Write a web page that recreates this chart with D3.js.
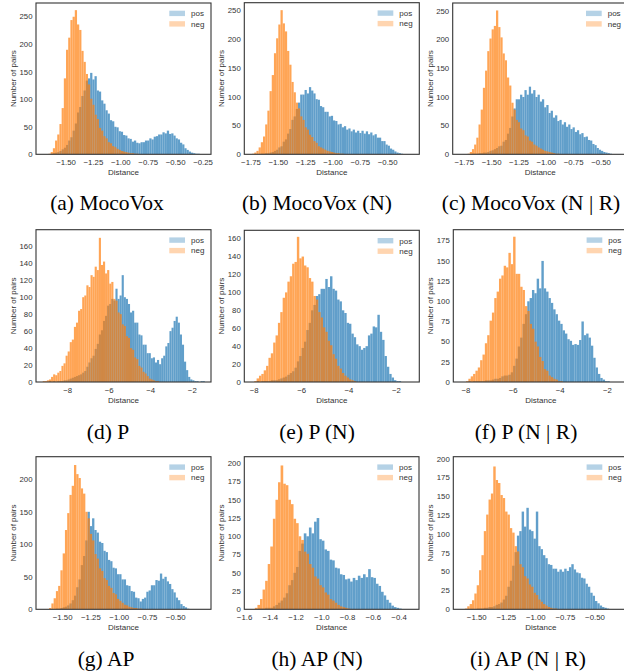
<!DOCTYPE html>
<html><head><meta charset="utf-8">
<script src="https://cdn.jsdelivr.net/npm/d3@7"></script>
<style>body{margin:0;background:#fff}svg{display:block}</style>
</head><body><svg id="c" width="624" height="671"></svg>
<script>
// ---- data: histogram counts (bin start, bin width, counts) ----
const captions = ["(a) MocoVox","(b) MocoVox (N)","(c) MocoVox (N | R)","(d) P","(e) P (N)","(f) P (N | R)","(g) AP","(h) AP (N)","(i) AP (N | R)"];
const seriesNames = ["pos","neg"];
const binWidths = [0.02,0.02,0.02,0.1,0.1,0.1,0.02,0.02,0.02];
const posStarts = [-1.64,-1.66,-1.68,-8.9,-7.9,-7.9,-1.56,-1.50,-1.50];
const negStarts = [-1.66,-1.74,-1.72,-9.2,-8.0,-8.0,-1.62,-1.52,-1.60];

const aPos = [1,2,3,4,6,9,12,17,25,31,43,56,76,86,106,116,134,138,148,136,142,116,114,98,92,80,74,62,60,50,49,42,41,35,34,29,28,23,25,21,20,22,22,25,25,29,27,32,33,36,36,40,38,43,37,38,34,29,27,21,18,11,8,5,3,2,1,1];
const aNeg = [1,4,11,25,36,55,84,138,190,212,244,250,262,236,226,188,168,146,127,101,90,72,64,48,43,33,29,22,20,15,13,10,8,6,5,4,3,2,2,1,1];
const bPos = [1,1,2,2,3,4,6,8,12,14,22,26,36,44,60,66,79,90,104,104,112,106,117,111,106,96,95,84,82,74,74,66,67,59,58,52,53,47,49,43,45,40,43,38,41,37,41,36,40,35,38,33,35,29,29,23,23,17,15,10,8,5,3,2,1];
const bNeg = [1,3,6,12,21,31,52,76,110,138,176,202,226,251,228,214,180,156,126,108,90,80,66,60,47,43,34,30,23,20,14,12,10,8,6,5,4,3,2,2,1,1];
const cPos = [1,1,1,2,2,3,3,4,6,7,9,11,14,15,22,25,36,46,66,80,96,96,104,100,112,104,118,106,112,100,104,92,96,82,86,72,76,64,68,58,60,52,56,48,52,44,47,39,42,35,37,30,31,25,24,18,16,11,8,6,4,3,2,1];
const cNeg = [1,4,9,17,29,52,78,116,146,180,202,218,224,251,222,204,176,164,134,120,90,78,60,56,45,42,33,31,24,22,17,15,12,10,8,6,5,4,3,2,1,1];
const dPos = [1,0,1,0,1,1,1,2,2,3,4,5,6,7,8,9,11,13,18,23,28,31,39,45,56,61,72,78,90,92,98,96,110,98,102,126,100,98,92,82,84,70,70,56,55,44,44,34,34,28,29,23,26,21,28,31,42,46,60,64,72,77,70,56,44,24,14,6,3,2,1,1,0,1,1];
const dNeg = [1,1,2,3,6,9,8,11,13,19,22,31,36,47,50,65,70,84,86,100,102,114,112,126,124,136,132,170,138,142,128,132,116,118,98,96,82,80,68,66,54,52,40,38,29,27,19,17,12,10,7,4,3,2,1,1];
const ePos = [1,0,1,1,1,1,2,2,2,3,4,5,6,8,10,12,16,23,29,38,45,58,66,80,86,96,98,104,104,115,106,118,104,102,92,90,80,77,66,65,54,50,42,40,36,38,40,52,54,62,61,75,56,47,29,17,9,5,2,1,1];
const eNeg = [1,4,7,9,13,18,27,32,44,52,66,78,94,100,112,118,132,134,162,138,140,130,128,116,112,96,92,78,72,61,56,46,41,31,26,18,15,10,7,5,3,2,1];
const fPos = [1,0,1,1,1,1,1,2,2,2,3,4,4,5,7,8,8,9,12,20,29,44,55,72,84,100,104,114,110,128,116,150,116,112,104,98,90,84,76,72,64,60,53,51,46,47,46,52,75,58,60,55,45,30,18,10,5,3,1,1];
const fNeg = [1,4,7,10,14,18,27,34,48,58,76,86,104,112,128,132,144,142,160,146,180,134,134,118,114,94,88,72,66,50,44,31,26,16,14,8,6,4,3,1,1];
const gPos = [1,1,2,3,4,6,9,14,21,34,46,68,82,106,150,128,140,122,118,104,102,90,88,76,74,64,63,54,54,46,46,37,36,28,27,18,17,12,16,18,27,29,37,37,45,44,55,47,50,43,39,31,26,18,14,8,5,3,1];
const gNeg = [2,9,17,28,36,60,86,122,148,176,190,222,208,202,186,178,150,140,116,106,85,78,63,59,48,45,36,33,25,23,16,13,10,7,6,4,3,2,2,1,1];
const hPos = [1,1,1,2,2,2,4,6,9,12,16,22,33,40,50,58,80,90,104,100,112,104,120,125,96,94,82,80,68,67,57,56,48,47,41,42,38,43,40,46,43,48,44,55,44,43,35,32,24,19,13,9,5,3,2,1];
const hNeg = [2,6,14,27,39,62,86,124,150,174,197,172,170,150,144,124,118,100,95,79,76,62,57,45,42,33,30,23,20,14,12,9,6,4,3,2,1];
const iPos = [1,1,1,2,2,3,3,4,6,7,9,13,18,30,38,58,76,98,104,130,110,135,106,104,94,130,84,80,72,68,60,59,54,54,50,53,50,54,51,56,60,53,49,48,42,41,34,30,22,18,11,8,5,3,2,1];
const iNeg = [1,4,7,12,21,32,52,72,104,126,146,154,190,172,168,152,148,130,126,108,102,84,77,60,56,44,41,33,30,22,19,13,10,7,5,3,2,1,1];

const posCounts = [aPos,bPos,cPos,dPos,ePos,fPos,gPos,hPos,iPos];
const negCounts = [aNeg,bNeg,cNeg,dNeg,eNeg,fNeg,gNeg,hNeg,iNeg];

// axis domains and tick labels
const xDomains = [[-1.774,-0.177],[-1.811,-0.211],[-1.856,-0.256],[-9.525,-1.1],[-8.42,-1.03],[-8.54,-1.11],[-1.736,-0.188],[-1.602,-0.245],[-1.698,-0.218]];
const yMaxes = [275,264,264,179.6,169.3,188.7,234.8,209,203];
const xTickSets = [
  [-1.5,-1.25,-1.0,-0.75,-0.5,-0.25],
  [-1.75,-1.5,-1.25,-1.0,-0.75,-0.5],
  [-1.75,-1.5,-1.25,-1.0,-0.75,-0.5],
  [-8,-6,-4,-2],[-8,-6,-4,-2],[-8,-6,-4,-2],
  [-1.5,-1.25,-1.0,-0.75,-0.5],
  [-1.6,-1.4,-1.2,-1.0,-0.8,-0.6,-0.4],
  [-1.5,-1.25,-1.0,-0.75,-0.5]
];
const xTickDecimals = [2,2,2,0,0,0,2,1,2];
const yTickSets = [
  [0,50,100,150,200,250],[0,50,100,150,200,250],[0,50,100,150,200,250],
  [0,20,40,60,80,100,120,140,160],[0,20,40,60,80,100,120,140,160],[0,25,50,75,100,125,150,175],
  [0,50,100,150,200],[0,25,50,75,100,125,150,175,200],[0,25,50,75,100,125,150,175,200]
];

// ---- layout ----
const boxes = [
  [36,3,211,154.3],[244.3,2.7,419.3,154.3],[452.7,3,627.7,154.3],
  [36,229.7,211,382],[244.3,230.3,419.3,382],[453.3,229.7,628.3,382],
  [36,456.7,211,609.3],[244.3,456.7,419,609.3],[453.3,456.7,628.3,609.3]
];
const captionPos = [[107,210],[317,210],[531,210],[108,439],[317,439],[526,439],[106,666],[317,666],[528,666]];
const colors = {pos:"#1f77b4", neg:"#ff7f0e"};
const minus = s => s.replace("-", "\u2212");
const SANS = "Liberation Sans, Arial, sans-serif";

const svg = d3.select("#c");
const defs = svg.append("defs");

captions.forEach((cap, k) => {
  const [L,T,R,B] = boxes[k];
  const x = d3.scaleLinear().domain(xDomains[k]).range([L,R]);
  const y = d3.scaleLinear().domain([0,yMaxes[k]]).range([B,T]);
  const g = svg.append("g");
  defs.append("clipPath").attr("id","clip"+k).append("rect")
    .attr("x",L).attr("y",T).attr("width",R-L).attr("height",B-T);
  const plot = g.append("g").attr("clip-path","url(#clip"+k+")");
  const bw = binWidths[k];
  const drawSeries = (counts, start, color) => {
    const sg = plot.append("g").attr("opacity",0.7);
    sg.selectAll("rect").data(counts).join("rect")
      .attr("x",(d,i)=>x(start+i*bw))
      .attr("width",(d,i)=>x(start+(i+1)*bw)-x(start+i*bw)+0.05)
      .attr("y",d=>y(d))
      .attr("height",d=>y(0)-y(d))
      .attr("fill",color);
  };
  drawSeries(posCounts[k], posStarts[k], colors.pos);
  drawSeries(negCounts[k], negStarts[k], colors.neg);

  // frame
  g.append("rect").attr("x",L).attr("y",T).attr("width",R-L).attr("height",B-T)
    .attr("fill","none").attr("stroke","#333").attr("stroke-width",1.1);

  // ticks
  const fmt = d3.format("."+xTickDecimals[k]+"f");
  g.selectAll(".xt").data(xTickSets[k]).join("text")
    .attr("x",d=>x(d)).attr("y",B+10.5)
    .attr("text-anchor","middle")
    .attr("font-family",SANS).attr("font-size",7.8).attr("fill","#333")
    .text(d=>minus(fmt(d)));
  g.selectAll(".yt").data(yTickSets[k]).join("text")
    .attr("x",L-3.5).attr("y",d=>y(d)).attr("dy","0.35em")
    .attr("text-anchor","end")
    .attr("font-family",SANS).attr("font-size",7.8).attr("fill","#333")
    .text(d=>d);
  g.append("text").attr("x",(L+R)/2).attr("y",B+20.5).attr("text-anchor","middle")
    .attr("font-family",SANS).attr("font-size",8).attr("fill","#333")
    .text("Distance");
  g.append("text").attr("transform",`translate(${L-20},${(T+B)/2}) rotate(-90)`)
    .attr("text-anchor","middle")
    .attr("font-family",SANS).attr("font-size",8).attr("fill","#333")
    .text("Number of pairs");

  // legend
  seriesNames.forEach((name, j) => {
    g.append("rect").attr("x",R-41.7).attr("y",T+7.7+j*10.5).attr("width",15.7).attr("height",5.4)
      .attr("fill",colors[name]).attr("opacity",0.33);
    g.append("text").attr("x",R-20).attr("y",T+10.4+j*10.5).attr("dy","0.35em")
      .attr("font-family",SANS).attr("font-size",8).attr("fill","#333")
      .text(name);
  });

  // caption
  svg.append("text").attr("x",captionPos[k][0]).attr("y",captionPos[k][1])
    .attr("text-anchor","middle")
    .attr("font-family","Liberation Serif, Times New Roman, serif").attr("font-size",21.5).attr("fill","#000")
    .text(cap);
});
</script></body></html>
